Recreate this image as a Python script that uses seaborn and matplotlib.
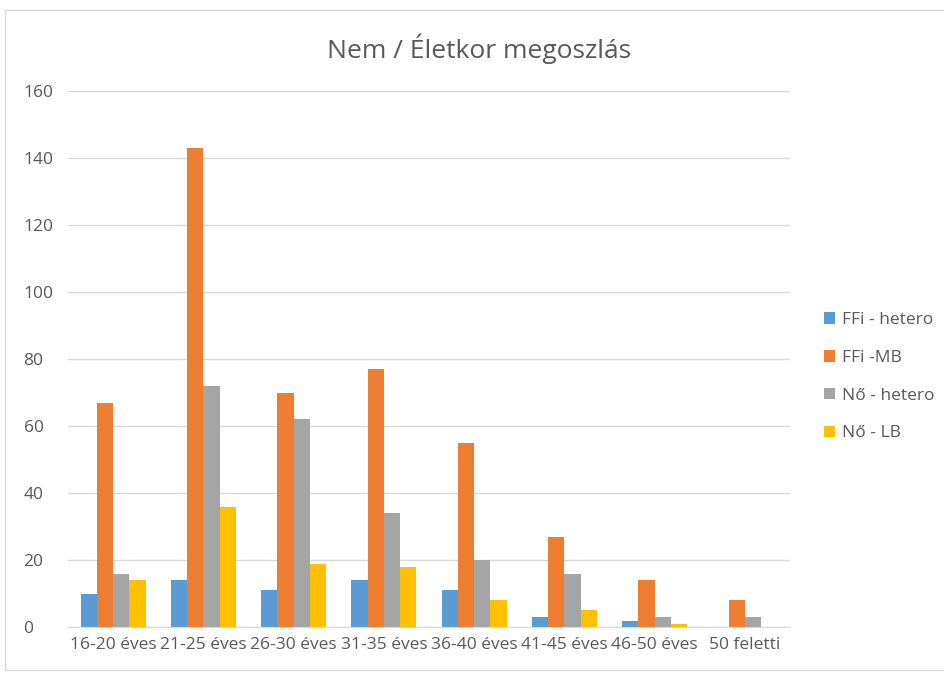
import pandas as pd
import matplotlib.pyplot as plt
import seaborn as sns
from matplotlib.patches import Rectangle

age_groups = ['16-20 éves', '21-25 éves', '26-30 éves', '31-35 éves',
              '36-40 éves', '41-45 éves', '46-50 éves', '50 feletti']
ffi_hetero = [10, 14, 11, 14, 11, 3, 2, 0]
ffi_mb = [67, 143, 70, 77, 55, 27, 14, 8]
no_hetero = [16, 72, 62, 34, 20, 16, 3, 3]
no_lb = [14, 36, 19, 18, 8, 5, 1, 0]

series = ['FFi - hetero', 'FFi -MB', 'Nő - hetero', 'Nő - LB']
colors = ['#5B9BD5', '#ED7D31', '#A5A5A5', '#FFC000']

rows = []
for name, vals in zip(series, [ffi_hetero, ffi_mb, no_hetero, no_lb]):
    for g, v in zip(age_groups, vals):
        rows.append({'age': g, 'group': name, 'count': v})
df = pd.DataFrame(rows)

sns.set_style('white')
plt.rcParams['font.family'] = ['Open Sans', 'DejaVu Sans']

fig = plt.figure(figsize=(9.44, 6.73), dpi=100)
ax = fig.add_axes([0.072, 0.068, 0.765, 0.797])
sns.barplot(data=df, x='age', y='count', hue='group', palette=colors,
            width=0.72, ax=ax, saturation=1, legend=True, linewidth=0)

ax.set_ylim(0, 160)
ax.set_yticks(range(0, 161, 20))
ax.yaxis.grid(True, color='#D9D9D9', linewidth=1)
ax.set_axisbelow(True)
for s in ['top', 'right', 'left']:
    ax.spines[s].set_visible(False)
ax.spines['bottom'].set_color('#D9D9D9')
ax.set_xlabel('')
ax.set_ylabel('')
ax.tick_params(axis='both', length=0, labelsize=12.5, colors='#595959')
ax.tick_params(axis='y', pad=32)
ax.tick_params(axis='x', pad=7)
for lbl in ax.get_yticklabels():
    lbl.set_horizontalalignment('left')
ax.set_xlim(-0.5, 7.5)

handles, labels = ax.get_legend_handles_labels()
ax.get_legend().remove()
fig.legend(handles, labels, loc='center left', bbox_to_anchor=(0.856, 0.44),
           frameon=False, fontsize=12.5, labelcolor='#595959',
           handlelength=0.65, handleheight=0.65, handletextpad=0.4,
           labelspacing=1.25)

fig.text(0.507, 0.928, 'Nem / Életkor megoszlás', ha='center', va='center',
         fontsize=19, color='#595959')

fig.patches.append(Rectangle((0.005, 0.005), 1.2, 0.98, transform=fig.transFigure,
                             fill=False, edgecolor='#D9D9D9', linewidth=1))

fig.savefig('out.png', dpi=100)
